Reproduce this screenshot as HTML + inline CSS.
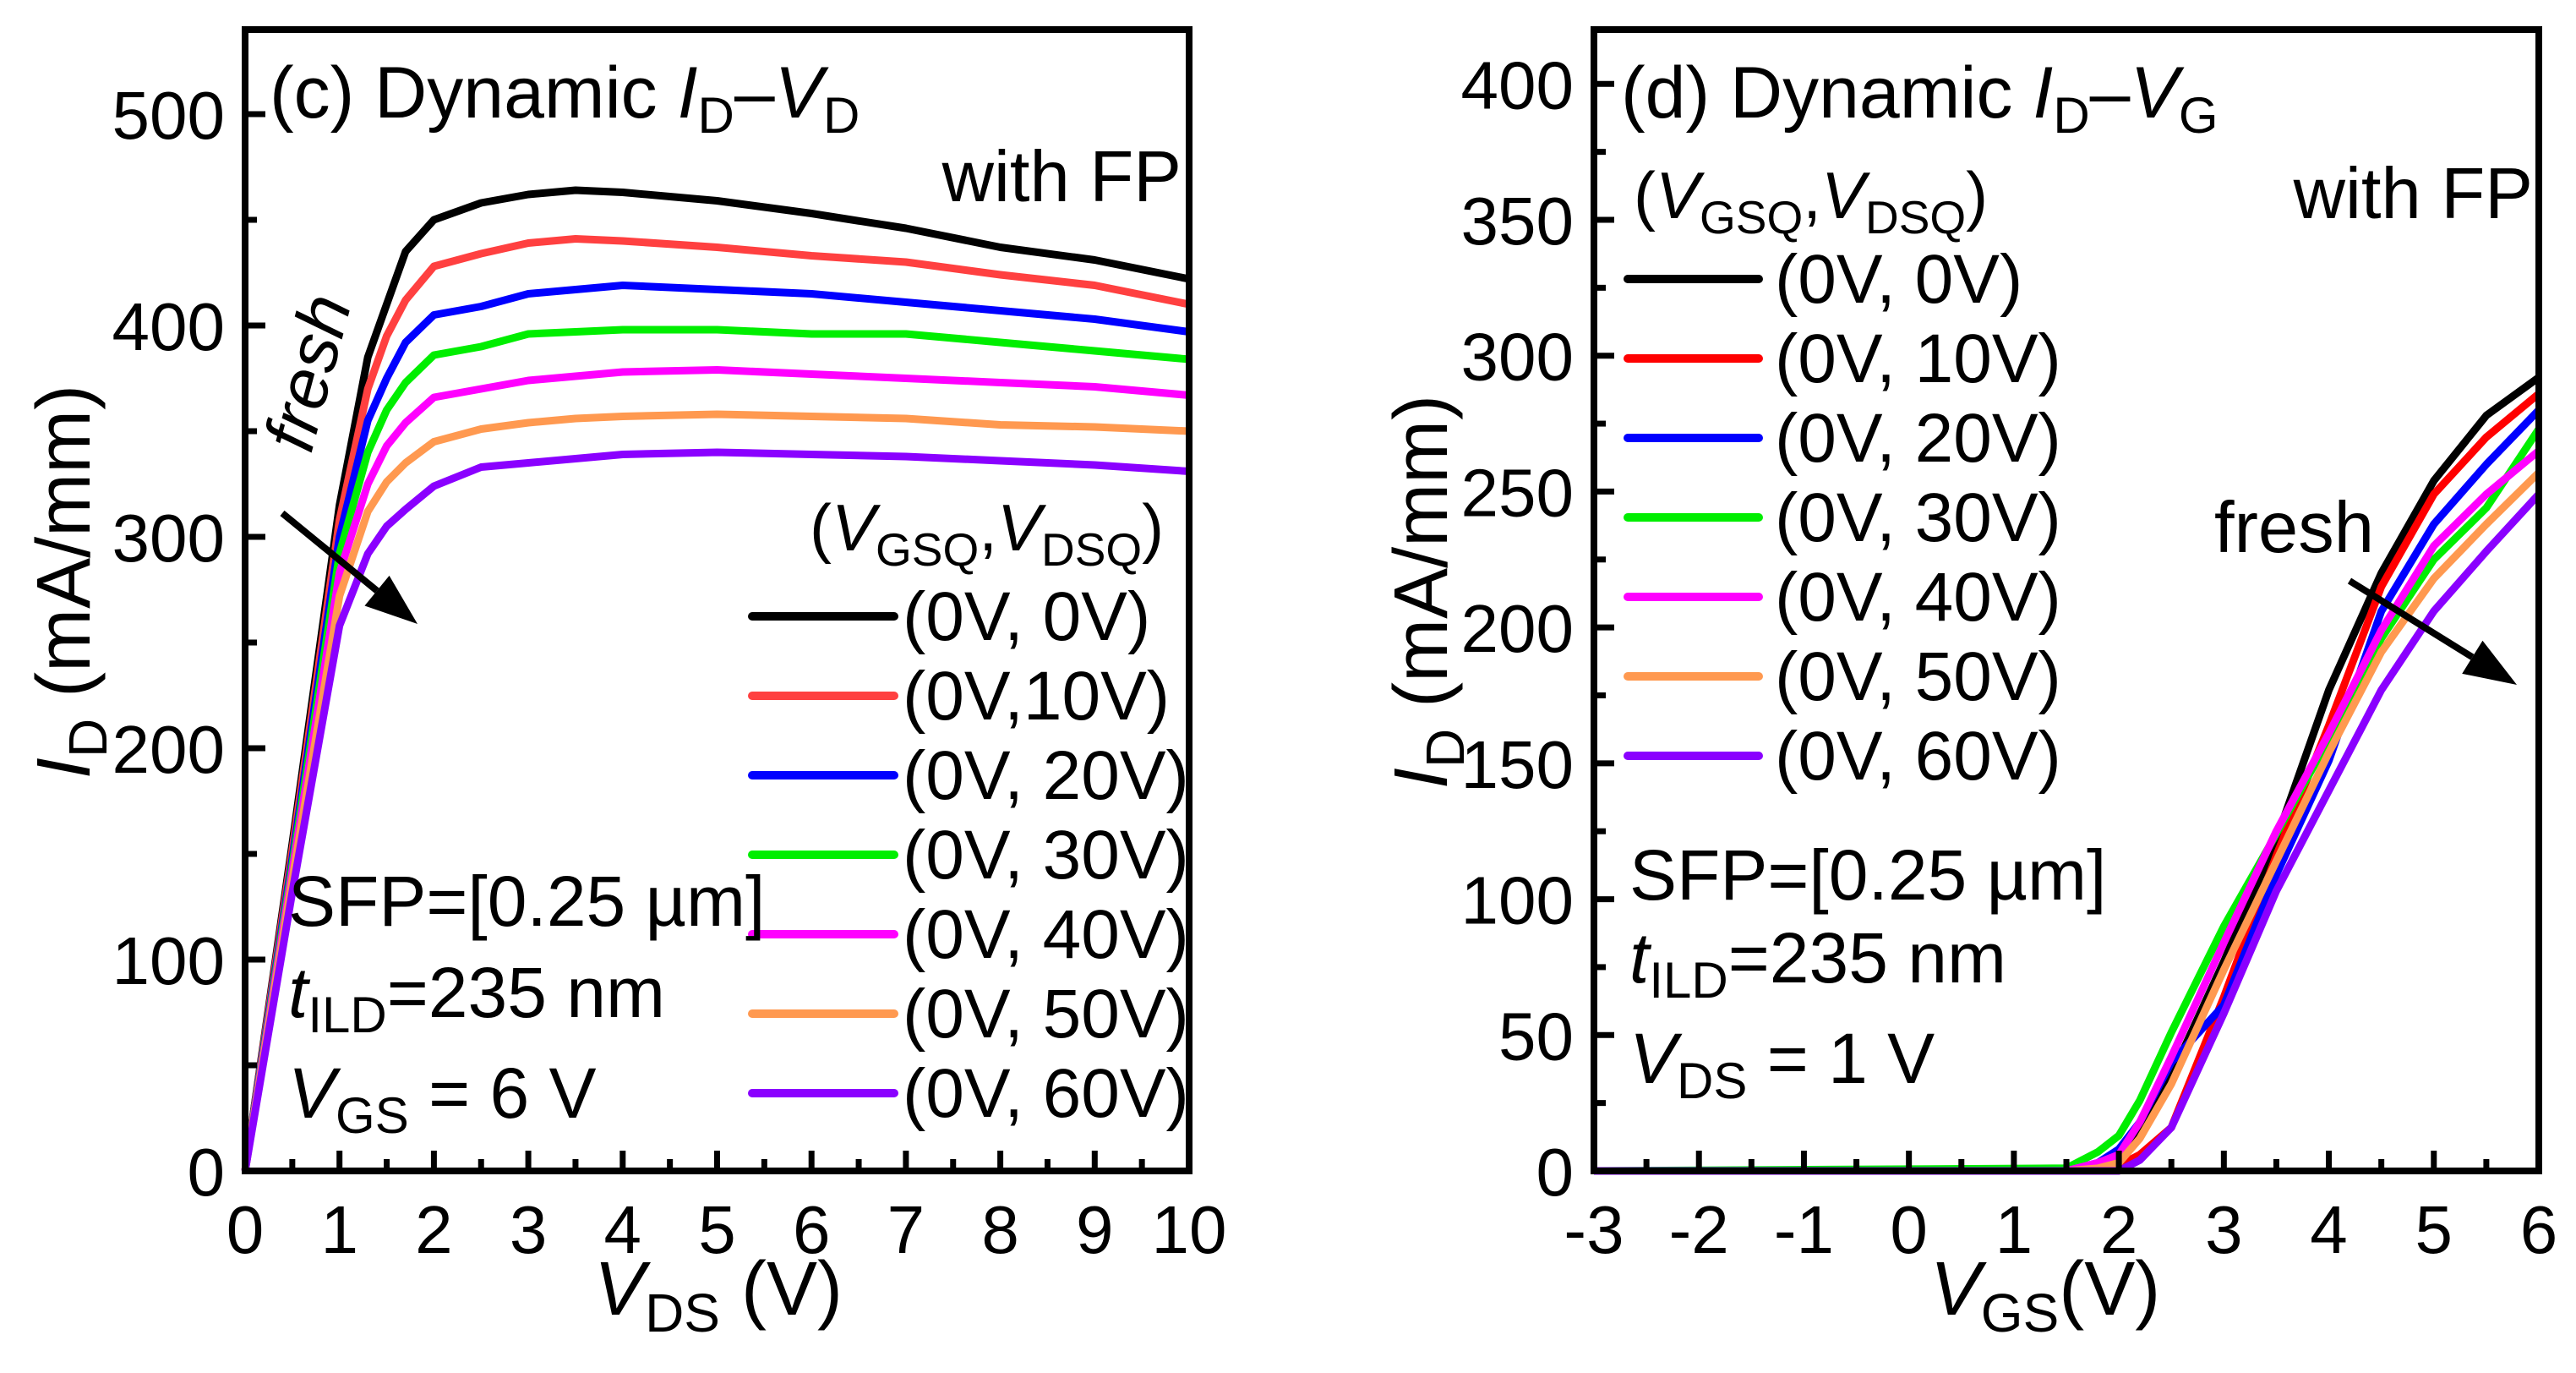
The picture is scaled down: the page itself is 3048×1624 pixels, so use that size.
<!DOCTYPE html>
<html><head><meta charset="utf-8"><style>
html,body{margin:0;padding:0;background:#fff}
svg text{font-family:"Liberation Sans",sans-serif;fill:#000}
</style></head><body>
<svg id="fig" width="3048" height="1619" viewBox="0 0 3048 1619" xmlns="http://www.w3.org/2000/svg">
<g id="pc"></g>
<g id="pd"></g>
<g>
<text x="319" y="139" font-size="86">(c) Dynamic <tspan font-style="italic">I</tspan><tspan font-size="60" dy="18">D</tspan><tspan dy="-18">–</tspan><tspan font-style="italic">V</tspan><tspan font-size="60" dy="18">D</tspan></text>
<text x="1398" y="238" font-size="85" text-anchor="end">with FP</text>
<text x="0" y="0" font-size="84" font-style="italic" text-anchor="middle" transform="translate(392,448) rotate(-75)">fresh</text>
<text x="958" y="651" font-size="78">(<tspan font-style="italic">V</tspan><tspan font-size="55" dy="18">GSQ</tspan><tspan dy="-18">,</tspan><tspan font-style="italic">V</tspan><tspan font-size="55" dy="18">DSQ</tspan><tspan dy="-18">)</tspan></text>
<text x="341" y="1095" font-size="84">SFP=[0.25 µm]</text>
<text x="341" y="1203" font-size="84"><tspan font-style="italic">t</tspan><tspan font-size="60" dy="18">ILD</tspan><tspan dy="-18">=235 nm</tspan></text>
<text x="341" y="1322" font-size="84"><tspan font-style="italic">V</tspan><tspan font-size="60" dy="18">GS</tspan><tspan dy="-18"> = 6 V</tspan></text>
</g>
<g>
<text x="1918" y="139" font-size="86">(d) Dynamic <tspan font-style="italic">I</tspan><tspan font-size="60" dy="18">D</tspan><tspan dy="-18">–</tspan><tspan font-style="italic">V</tspan><tspan font-size="60" dy="18">G</tspan></text>
<text x="2997" y="258" font-size="85" text-anchor="end">with FP</text>
<text x="2620" y="653" font-size="85">fresh</text>
<text x="1933" y="258" font-size="78">(<tspan font-style="italic">V</tspan><tspan font-size="55" dy="18">GSQ</tspan><tspan dy="-18">,</tspan><tspan font-style="italic">V</tspan><tspan font-size="55" dy="18">DSQ</tspan><tspan dy="-18">)</tspan></text>
<text x="1928" y="1064" font-size="84">SFP=[0.25 µm]</text>
<text x="1928" y="1162" font-size="84"><tspan font-style="italic">t</tspan><tspan font-size="60" dy="18">ILD</tspan><tspan dy="-18">=235 nm</tspan></text>
<text x="1928" y="1281" font-size="84"><tspan font-style="italic">V</tspan><tspan font-size="60" dy="18">DS</tspan><tspan dy="-18"> = 1 V</tspan></text>
</g>
</svg>
<script>
// ---- Panel (c) data ----
const cX = [0,0.5,1,1.3,1.5,1.7,2,2.5,3,3.5,4,5,6,7,8,9,10];
const cBlack  = [0,155,315,385,410,435,450,458,462,464,463,459,453,446,437,431,422];
const cRed    = [0,152,308,370,395,412,428,434,439,441,440,437,433,430,424,419,410];
const cBlue   = [0,148,300,355,375,392,405,409,415,417,419,417,415,411,407,403,397];
const cGreen  = [0,145,292,340,360,373,386,390,396,397,398,398,396,396,392,388,384];
const cMag    = [0,142,283,325,343,354,366,370,374,376,378,379,377,375,373,371,367];
const cOrange = [0,138,272,312,326,335,345,351,354,356,357,358,357,356,353,352,350];
const cPurple = [0,132,258,292,305,313,324,333,335,337,339,340,339,338,336,334,331];
const cXTicks = [0,1,2,3,4,5,6,7,8,9,10];
const cYTicks = [0,100,200,300,400,500];
const cLegend = ['(0V, 0V)','(0V,10V)','(0V, 20V)','(0V, 30V)','(0V, 40V)','(0V, 50V)','(0V, 60V)'];
// ---- Panel (d) data ----
const dX = [-3,1.5,1.8,2,2.2,2.5,3,3.5,4,4.5,5,5.5,6];
const dBlack  = [0,0,2,5,14,35,77,122,177,220,254,278,292];
const dRed    = [0,0,0,2,6,16,64,116,164,215,249,270,286];
const dBlue   = [0,0,3,8,18,40,61,109,151,206,238,260,280];
const dGreen  = [0,1,7,13,26,51,90,124,159,196,225,244,273];
const dMag    = [0,0,3,6,18,42,84,125,161,199,230,249,265];
const dOrange = [0,0,1,3,12,32,74,114,154,191,218,238,257];
const dPurple = [0,0,0,0,4,16,58,103,140,177,206,228,249];
const dXTicks = [-3,-2,-1,0,1,2,3,4,5,6];
const dYTicks = [0,50,100,150,200,250,300,350,400];
const dLegend = ['(0V, 0V)','(0V, 10V)','(0V, 20V)','(0V, 30V)','(0V, 40V)','(0V, 50V)','(0V, 60V)'];

const NS='http://www.w3.org/2000/svg';
function mk(tag,attrs,parent){const e=document.createElementNS(NS,tag);for(const k in attrs)e.setAttribute(k,attrs[k]);parent.appendChild(e);return e;}

function panel(g,o){
  const sx=v=>o.L+(v-o.x0)/(o.x1-o.x0)*(o.R-o.L);
  const sy=v=>o.B-(v-o.y0)/(o.y1-o.y0)*(o.B-o.T);
  o.series.forEach((s,i)=>{
    const d=o.xs.map((x,j)=>(j?'L':'M')+sx(x).toFixed(1)+' '+sy(s.v[j]).toFixed(1)).join(' ');
    const p=mk('path',{d:d,fill:'none',stroke:s.c,'stroke-width':9,'stroke-linejoin':'round'},g);
    
    
  });
  const f=mk('rect',{x:o.L,y:o.T,width:o.R-o.L,height:o.B-o.T,fill:'none',stroke:'#000','stroke-width':8},g);
  
  
  for(let v=o.x0;v<=o.x1+1e-9;v+=0.5){
    const maj=Math.abs(v-Math.round(v))<1e-9;
    const t=mk('line',{x1:sx(v),x2:sx(v),y1:o.B,y2:o.B-(maj?24:14),stroke:'#000','stroke-width':7},g);
    
    
  }
  o.xt.forEach(v=>{
    const t=mk('text',{x:sx(v),y:1482,'font-size':80,'text-anchor':'middle'},g);t.textContent=v;
    
    
  });
  for(let v=o.y0;v<=o.y1+1e-9;v+=o.ym){
    const maj=Math.abs(v/o.yM-Math.round(v/o.yM))<1e-9;
    const t=mk('line',{x1:o.L,x2:o.L+(maj?24:14),y1:sy(v),y2:sy(v),stroke:'#000','stroke-width':7},g);
    
    
  }
  o.yt.forEach(v=>{
    const t=mk('text',{x:o.L-24,y:sy(v)+29,'font-size':80,'text-anchor':'end'},g);t.textContent=v;
    
    
  });
  o.series.forEach((s,i)=>{
    const y=o.lg.y+i*o.lg.dy;
    const l=mk('line',{x1:o.lg.x1,x2:o.lg.x2,y1:y-28,y2:y-28,stroke:s.c,'stroke-width':10,'stroke-linecap':'round'},g);
    
    
    const t=mk('text',{x:o.lg.tx,y:y,'font-size':82},g);t.textContent=o.leg[i];
    
    
  });
  const a=o.arrow;
  const ang=Math.atan2(a[3]-a[1],a[2]-a[0]);const hl=62,hw=23;
  const bx=a[2]-hl*Math.cos(ang),by=a[3]-hl*Math.sin(ang);
  const ln=mk('line',{x1:a[0],y1:a[1],x2:bx,y2:by,stroke:'#000','stroke-width':8},g);
  
  
  const hd=mk('polygon',{points:[a[2],a[3],bx+hw*Math.sin(ang),by-hw*Math.cos(ang),bx-hw*Math.sin(ang),by+hw*Math.cos(ang)].join(' '),fill:'#000'},g);
  
  
  const xt=mk('text',{x:o.xtx,y:1555,'font-size':90,'text-anchor':'middle'},g);
  xt.innerHTML=o.xtitle;
  
  
  const yt=mk('text',{x:0,y:0,'font-size':90,'text-anchor':'middle',transform:'translate('+o.ytx+','+o.yty+') rotate(-90)'},g);
  yt.innerHTML='<tspan font-style="italic">I</tspan><tspan font-size="64" dy="20">D</tspan><tspan dy="-20"> (mA/mm)</tspan>';
  
  
}
const names=['0v-0v','0v-10v','0v-20v','0v-30v','0v-40v','0v-50v','0v-60v'];
panel(document.getElementById('pc'),{id:'panel-c',L:290,R:1407,T:35,B:1385,x0:0,x1:10,y0:0,y1:540,ym:50,yM:100,
  xs:cX,xt:cXTicks,yt:cYTicks,leg:cLegend,
  series:[[cBlack,'#000000'],[cRed,'#ff4040'],[cBlue,'#0000ff'],[cGreen,'#00ee00'],[cMag,'#ff00ff'],[cOrange,'#ff9950'],[cPurple,'#8a00ff']].map((a,i)=>({v:a[0],c:a[1],n:names[i]})),
  lg:{x1:890,x2:1058,tx:1068,y:757,dy:94},arrow:[334,607,494,738],xtx:850,ytx:106,yty:688,
  xtitle:'<tspan font-style="italic">V</tspan><tspan font-size="64" dy="20">DS</tspan><tspan dy="-20"> (V)</tspan>'});
panel(document.getElementById('pd'),{id:'panel-d',L:1886,R:3004,T:35,B:1385,x0:-3,x1:6,y0:0,y1:420,ym:25,yM:50,
  xs:dX,xt:dXTicks,yt:dYTicks,leg:dLegend,
  series:[[dBlack,'#000000'],[dRed,'#ff0000'],[dBlue,'#0000ff'],[dGreen,'#00ee00'],[dMag,'#ff00ff'],[dOrange,'#ff9950'],[dPurple,'#8a00ff']].map((a,i)=>({v:a[0],c:a[1],n:names[i]})),
  lg:{x1:1926,x2:2081,tx:2100,y:358,dy:94},arrow:[2780,687,2978,810],xtx:2420,ytx:1712,yty:700,
  xtitle:'<tspan font-style="italic">V</tspan><tspan font-size="64" dy="20">GS</tspan><tspan dy="-20">(V)</tspan>'});
</script>
</body></html>
